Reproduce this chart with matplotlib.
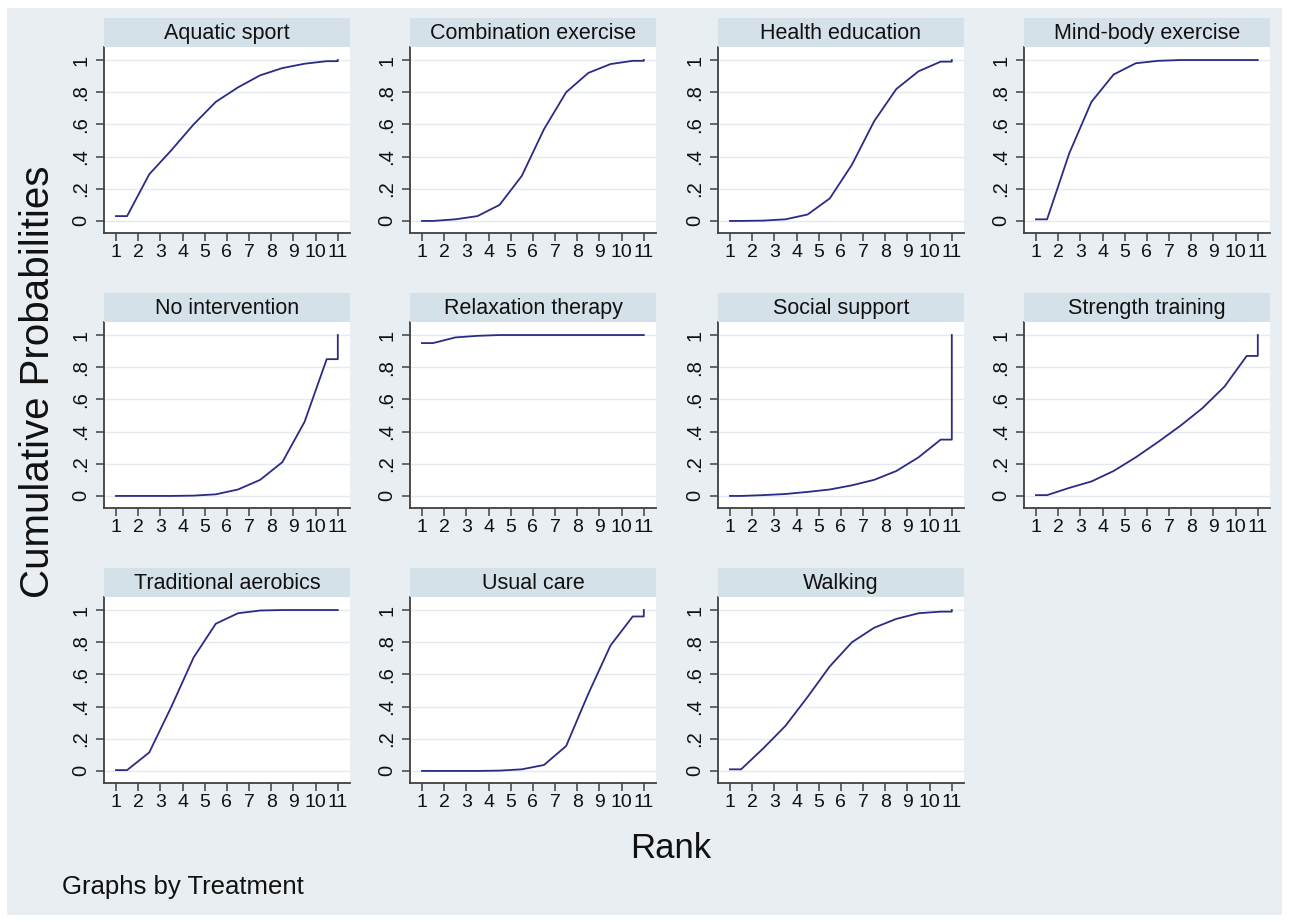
import matplotlib.pyplot as plt
from matplotlib.patches import Rectangle

plt.rcParams["font.family"] = ["Liberation Sans", "DejaVu Sans"]

# Cumulative ranking probabilities, ranks 1..11
ranks = list(range(1, 12))
treatments = [
    "Aquatic sport", "Combination exercise", "Health education", "Mind-body exercise",
    "No intervention", "Relaxation therapy", "Social support", "Strength training",
    "Traditional aerobics", "Usual care", "Walking",
]
aquatic_sport = [0.03, 0.29, 0.44, 0.60, 0.74, 0.83, 0.905, 0.95, 0.977, 0.993, 1.0]
combination_exercise = [0.0, 0.01, 0.03, 0.10, 0.28, 0.57, 0.80, 0.92, 0.975, 0.995, 1.0]
health_education = [0.0, 0.002, 0.01, 0.04, 0.14, 0.35, 0.62, 0.82, 0.93, 0.99, 1.0]
mind_body_exercise = [0.01, 0.42, 0.74, 0.91, 0.98, 0.995, 1.0, 1.0, 1.0, 1.0, 1.0]
no_intervention = [0.0, 0.0, 0.0, 0.002, 0.01, 0.04, 0.10, 0.21, 0.46, 0.85, 1.0]
relaxation_therapy = [0.95, 0.985, 0.995, 1.0, 1.0, 1.0, 1.0, 1.0, 1.0, 1.0, 1.0]
social_support = [0.0, 0.005, 0.012, 0.025, 0.04, 0.066, 0.10, 0.155, 0.24, 0.35, 1.0]
strength_training = [0.005, 0.05, 0.09, 0.155, 0.24, 0.335, 0.435, 0.545, 0.68, 0.87, 1.0]
traditional_aerobics = [0.005, 0.115, 0.40, 0.705, 0.915, 0.98, 0.997, 1.0, 1.0, 1.0, 1.0]
usual_care = [0.0, 0.0, 0.0, 0.002, 0.01, 0.037, 0.155, 0.48, 0.78, 0.96, 1.0]
walking = [0.01, 0.14, 0.28, 0.46, 0.65, 0.80, 0.89, 0.945, 0.98, 0.99, 1.0]

series = [aquatic_sport, combination_exercise, health_education, mind_body_exercise,
          no_intervention, relaxation_therapy, social_support, strength_training,
          traditional_aerobics, usual_care, walking]

y_ticks = [0, 0.2, 0.4, 0.6, 0.8, 1]
y_labels = ["0", ".2", ".4", ".6", ".8", "1"]

bg = "#e8eef2"
strip_col = "#d5e1e9"
line_col = "#2b2b86"
axis_col = "#404040"
grid_col = "#e4eaee"

W, H = 1289, 922
fig = plt.figure(figsize=(W / 100, H / 100), dpi=100)
fig.patch.set_facecolor("white")
fig.add_artist(Rectangle((7 / W, 7 / H), (W - 14) / W, (H - 15) / H,
                         transform=fig.transFigure, facecolor=bg,
                         edgecolor="none", zorder=-10))


def stair_path(cum):
    # points sit at half ranks, flat start at rank 1, jump at the last rank
    x = [ranks[0]] + [r + 0.5 for r in ranks[:-1]] + [ranks[-1], ranks[-1]]
    y = [cum[0]] + list(cum[:-1]) + [cum[-2], cum[-1]]
    return x, y


col_left = [104, 410, 718, 1024]
panel_w = 246
row_top = [47, 322, 597]
panel_h = 186
strip_h = 29

for i, (name, cum) in enumerate(zip(treatments, series)):
    r, c = divmod(i, 4)
    left = col_left[c]
    top = row_top[r]
    ax = fig.add_axes([left / W, 1 - (top + panel_h) / H, panel_w / W, panel_h / H])
    ax.set_facecolor("white")
    x, y = stair_path(cum)
    ax.plot(x, y, color=line_col, lw=1.3, zorder=3)
    ax.set_xlim(0.46, 11.55)
    ax.set_ylim(-0.075, 1.081)
    ax.set_xticks(ranks)
    ax.set_xticklabels([str(k) for k in ranks], fontsize=14)
    ax.set_yticks(y_ticks)
    ax.set_yticklabels(y_labels, fontsize=14.5, rotation=90, va="center")
    ax.grid(axis="y", color=grid_col, lw=1.0, zorder=0)
    ax.set_axisbelow(True)
    for s in ["top", "right"]:
        ax.spines[s].set_visible(False)
    for s in ["left", "bottom"]:
        ax.spines[s].set_color(axis_col)
        ax.spines[s].set_linewidth(1.3)
    ax.tick_params(length=6, width=1.1, color=axis_col, pad=2, labelcolor="#111111")
    ax.tick_params(axis="y", pad=4)

    # title strip above each panel
    sax = fig.add_axes([left / W, 1 - top / H, panel_w / W, strip_h / H])
    sax.set_facecolor(strip_col)
    sax.set_xticks([])
    sax.set_yticks([])
    for s in sax.spines.values():
        s.set_visible(False)
    sax.text(0.5, 0.48, name, ha="center", va="center", fontsize=15.5,
             color="#111111", transform=sax.transAxes)

fig.text(671 / W, 1 - 848 / H, "Rank", ha="center", va="center",
         fontsize=25, color="#111111")
fig.text(38 / W, 1 - 382 / H, "Cumulative Probabilities", ha="center",
         va="center", rotation=90, fontsize=29, color="#111111")
fig.text(62 / W, 1 - 887 / H, "Graphs by Treatment", ha="left", va="center",
         fontsize=18.5, color="#111111")

fig.savefig("out.png", dpi=100, facecolor=fig.get_facecolor())
